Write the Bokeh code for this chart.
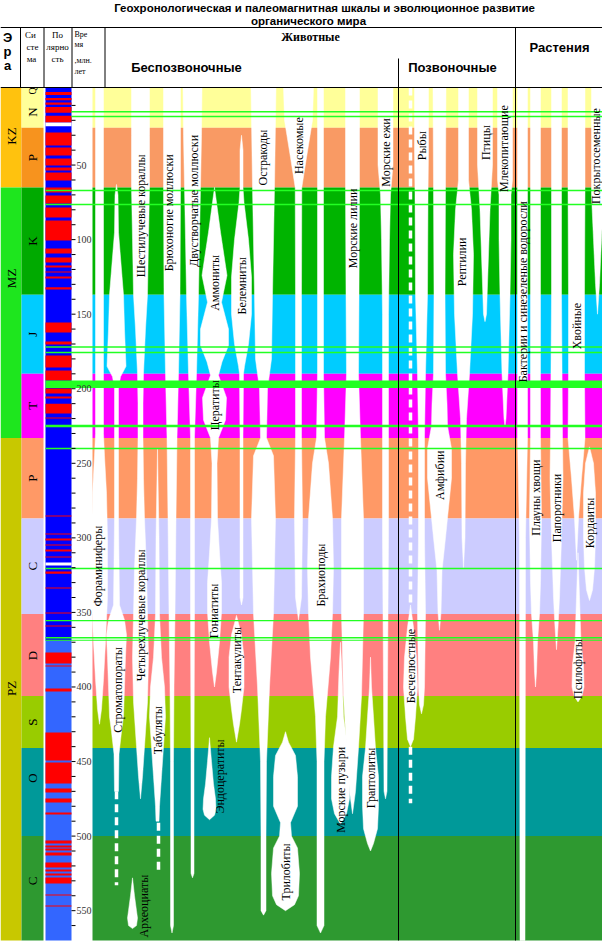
import math
from bokeh.plotting import figure
from bokeh.models import Range1d
from bokeh.embed import file_html
from bokeh.resources import INLINE
from bokeh.core.properties import value

# ---------------- data ----------------
eras = ["KZ", "MZ", "PZ"]
era_start = [0, 65, 233]
era_end = [65, 233, 570]
era_label_age = [30.5, 126, 401]

systems = ["N", "P", "K", "J", "T", "P", "C", "D", "S", "O", "C"]
sys_start = [0, 25, 65, 137, 190, 233, 287, 351, 406, 441, 500]
sys_end = [25, 65, 137, 190, 233, 287, 351, 406, 441, 500, 570]
sys_label_age = [14.5, 45, 101, 163.5, 211.5, 260, 319, 379, 423.5, 461, 530]

time_labels = [50, 100, 150, 200, 250, 300, 350, 400, 450, 500, 550]

# reversed (red) polarity intervals, Ma
reversed_start = [1, 5, 8, 11, 17, 28.2, 38.2, 45.6, 51.6, 55, 65, 70.4, 78.5, 87.2, 106, 112, 117.4, 121.4, 124.7, 132,
                  155.6, 168.3, 177.7, 187.8, 199.8, 205.2, 210, 219.3, 285, 297, 300.4, 304.5, 307.8, 312.5, 322.6,
                  333.3, 350, 358.7, 376.9, 385.6, 401, 430.5, 450.6, 468, 474.8, 484.2, 503, 506.3, 508.3, 511,
                  517.7, 522.4, 525, 527.8, 539.2, 546.5]
reversed_end = [3, 6.5, 9.5, 15, 21.5, 36.9, 43.6, 50.3, 53.6, 60.4, 68.4, 75.8, 85.2, 100.6, 109.3, 115.3, 118.7, 122,
                126, 133.5, 162.3, 170.3, 185.8, 194.5, 203.2, 206.5, 216.6, 220, 285.7, 297.7, 301.8, 305.1, 309.2,
                313.2, 324, 334, 350.7, 359.4, 384.3, 386.3, 403, 449.3, 464.7, 470.8, 477.5, 485.5, 505, 507.6,
                509.7, 513, 521, 523.7, 526.4, 531.8, 539.8, 547.2]
no_data_start = [21.5, 316.5]
no_data_end = [24, 318.5]

# event lines (Ma)
event_start = [13.8, 17.0, 66.5, 76.0, 171.5, 175.2, 194.5, 224.2, 239.5, 320.0, 355.0, 366.5, 368.3]
event_end = [14.8, 18.0, 67.5, 77.0, 172.5, 176.2, 199.5, 225.8, 240.5, 321.0, 356.0, 367.5, 369.0]

# taxa: name, age breakpoints, relative diversity (half width)
taxa_names = ["Фораминиферы", "Строматопораты", "Кораллы", "Табуляты", "Археоциаты", "Брюхоногие моллюски",
              "Двустворчатые моллюски", "Аммониты", "Эндоцератиты", "Тентакулиты", "Белемниты", "Остракоды",
              "Насекомые", "Трилобиты", "Брахиоподы", "Морские пузыри", "Морские лилии", "Граптолиты",
              "Морские ежи", "Бесчелюстные", "Рыбы", "Амфибии", "Рептилии", "Птицы", "Млекопитающие",
              "Бактерии", "Плауны хвощи", "Папоротники", "Хвойные", "Кордаиты", "Псилофиты", "Покрытосеменные"]
taxa_ages = [
    [-2, 230, 245, 270, 300, 340, 370, 395, 415, 425],
    [63, 70, 95, 137, 160, 185, 192, 200, 233, 287, 345, 355, 365, 380, 400, 420, 430, 445, 470],
    [-2, 30, 65, 100, 137, 160, 190, 210, 233, 260, 287, 320, 351, 380, 410, 440, 460, 475],
    [240, 300, 351, 380, 400, 420, 440, 460, 480, 490],
    [528, 540, 550, 555, 560, 562],
    [-2, 65, 137, 190, 233, 287, 351, 400, 450, 560, 565],
    [-2, 30, 65, 100, 137, 190, 233, 287, 351, 450, 525, 528],
    [65, 95, 124, 142, 160, 171, 182, 191, 206, 221, 233, 250, 287, 310, 330, 350, 370, 390, 400],
    [434, 450, 465, 475, 482, 486, 489],
    [352, 365, 380, 400, 415, 425, 437],
    [30, 40, 65, 75, 100, 125, 150, 170, 185, 190, 233, 300, 340, 345],
    [-2, 65, 137, 180, 200, 233, 245, 287, 351, 400, 450, 500, 550, 553],
    [-2, 20, 45, 65, 137, 190, 233, 287, 340, 355],
    [430, 437, 446, 460, 480, 491, 500, 508, 525, 540, 546, 550],
    [-2, 190, 233, 250, 287, 320, 351, 380, 420, 450, 560, 565],
    [370, 390, 420, 440, 460, 475, 485, 492],
    [-2, 65, 137, 190, 233, 287, 351, 406, 441, 470, 485],
    [380, 400, 420, 441, 460, 480, 495, 505, 510],
    [-2, 50, 70, 100, 150, 200, 300, 400, 470, 475],
    [345, 360, 380, 400, 420, 435, 440],
    [-2, 40, 70, 137, 190, 233, 300, 351, 400, 412, 418],
    [-2, 65, 137, 190, 210, 225, 240, 260, 280, 300, 322, 350, 362],
    [-2, 60, 80, 110, 150, 190, 220, 250, 300, 320],
    [-2, 50, 80, 120, 150, 155],
    [-2, 60, 70, 100, 137, 190, 220, 225],
    [-2, 233, 300, 570],
    [-2, 233, 287, 330, 351, 370, 390, 400],
    [-2, 137, 233, 260, 300, 340, 360, 375],
    [-2, 65, 137, 190, 233, 260, 287, 315],
    [239, 250, 270, 300, 320, 335, 342],
    [310, 340, 370, 385, 400, 406, 410],
    [-2, 70, 100, 130, 150],
]
taxa_div = [
    [4, 4, 5, 7, 8, 8, 6, 4, 2, 0],
    [0, 1.5, 2, 7, 8, 9.5, 4, 2, 2, 2, 3, 8, 10, 9, 8, 7, 5, 2.5, 2],
    [9, 9, 9, 8, 7, 5, 3, 2.5, 2.5, 3, 4, 6, 7, 8, 7, 4, 2, 0],
    [0, 1.5, 2, 4, 7, 8, 6, 4, 2, 1.5],
    [0, 2, 4, 5, 4, 0],
    [8.5, 8.5, 8, 6.5, 5, 4, 3, 2, 1.5, 1.5, 0],
    [9.5, 9, 8, 7, 6, 4, 2, 2, 2, 1.5, 1.5, 0],
    [0, 6, 12.5, 7, 14, 14, 7.5, 4, 12, 11, 4, 2.5, 3, 5, 7, 7, 5, 2, 0],
    [0, 2, 4, 6, 6.5, 5, 0],
    [0, 5, 7.5, 7.5, 5, 3, 0],
    [0, 1.5, 1.5, 2.5, 7, 10, 10, 7, 3, 2, 1.5, 1.5, 1.5, 0],
    [12.5, 11, 9, 8, 4, 3, 10, 12, 10, 6, 3, 2.5, 2.5, 0],
    [15, 14, 8, 3.3, 3, 3, 3, 4, 3, 0],
    [0, 3, 10, 12, 12, 5, 6, 12, 14, 13, 9, 0],
    [3, 3, 4, 8, 12, 13, 12, 10, 5, 3.5, 3.5, 0],
    [0, 1.5, 3, 7, 9, 9, 6, 0],
    [7, 7, 6.5, 6, 8, 11, 11, 9, 6, 3, 0],
    [0, 1, 3, 5, 8, 8, 7, 3, 0],
    [7.5, 7.5, 5, 4, 3, 3, 3, 2, 1.5, 0],
    [0, 3, 6, 7, 5, 3, 0],
    [7, 7, 6.5, 6, 4, 3, 3, 4, 3, 2, 0],
    [6.5, 6, 5.5, 6, 7.5, 8, 12, 12, 9, 6, 2.5, 1.5, 0],
    [5, 5, 8, 10, 9, 6, 3, 2, 1.5, 0],
    [7.5, 7.5, 5, 3, 1.5, 0],
    [7.5, 7.5, 6, 6, 5, 3, 1, 0],
    [5, 5, 3, 2.5],
    [5, 5, 6, 5, 4, 2, 1, 0],
    [5, 5, 6, 6.5, 5, 3, 1.5, 0],
    [8.5, 8.5, 8, 8, 8.5, 5, 2, 0],
    [0, 4, 6, 6, 5, 3, 0],
    [0, 1.5, 3, 5.5, 6, 4, 0],
    [6, 6, 4, 2, 0],
]
# dashed (poorly documented) ranges
dash_start = [470, 491, -2, 440]
dash_end = [533, 524, 345, 478]

# labels drawn in the chart
label_texts = ["Фораминиферы", "Строматопораты", "Шестилучевые кораллы", "Четырехлучевые кораллы", "Табуляты",
               "Археоциаты", "Брюхоногие моллюски", "Двустворчатые моллюски", "Аммониты", "Цератиты", "Гониатиты",
               "Эндоцератиты", "Тентакулиты", "Белемниты", "Остракоды", "Насекомые", "Трилобиты", "Брахиоподы",
               "Морские пузыри", "Морские лилии", "Граптолиты", "Морские ежи", "Бесчелюстные", "Рыбы", "Амфибии",
               "Рептилии", "Птицы", "Млекопитающие", "Бактерии и синезеленые водоросли", "Плауны хвощи",
               "Папоротники", "Хвойные", "Кордаиты", "Псилофиты", "Покрытосеменные"]
label_ages = [319, 402, 84, 352, 429, 547, 82, 74, 129, 211, 349, 460, 382, 131, 45, 37, 524, 325, 469, 92.5, 461,
              41.6, 386, 37, 258, 115, 35, 39, 135, 273, 280, 158, 290, 388, 44]

# ---------------- layout ----------------
W, H = 602, 942
Y0 = 90.0      # pixel row of 0 Ma
KPX = 1.4912   # pixels per Ma


def ma(ypx):
    return (ypx - Y0) / KPX


TOP = ma(87)
X_ERA = (0, 21)
X_SYS = (21, 43)
X_POL = (45, 71)
X_TIME = 71
X_CH = 92

era_colors = ["#FFC20E", "#1EE61E", "#C8C800"]
sys_colors = ["#FFFF99", "#F7931E", "#00AA00", "#00CCFF", "#FF00FF", "#FF9966", "#CCCCFF", "#FF8080", "#99CC00",
              "#009999", "#2E9930"]
band_colors = ["#FFFF99", "#F99A64", "#00B400", "#00CCFF", "#FF00FF", "#FF9966", "#CCCCFF", "#FF8080", "#99CC00",
               "#009999", "#2E9930"]

taxa_x = [99, 116, 140, 157, 132, 171.5, 192, 214, 209, 236, 241, 263, 298, 285, 320, 340, 352, 370, 385, 410, 421,
          439, 463, 484.5, 504.5, 522, 535, 556, 576, 589, 577.5, 597]
dash_x = [116, 158, 410, 410]
label_x = [97, 117, 140, 140, 157, 143, 168, 193, 214, 214, 213, 219, 236, 241, 262, 298, 285, 320, 340, 352, 370,
           385, 410, 421, 439, 461, 485, 503, 522, 535, 556, 576, 589, 577.5, 595]
event_x0 = [X_TIME, X_TIME] + [X_POL[0]] * 11

SERIF = value("Liberation Serif")
SANS = value("Liberation Sans")

p = figure(width=W, height=H, x_range=Range1d(0, W), y_range=Range1d(ma(H), ma(0)),
           output_backend="svg", toolbar_location=None, min_border=0)
p.axis.visible = False
p.xgrid.visible = False
p.ygrid.visible = False
p.outline_line_color = None
p.background_fill_color = "white"
p.border_fill_color = "white"


def top_of(a):
    return TOP if a <= 0 else a


# era column
p.quad(left=X_ERA[0], right=X_ERA[1], top=[top_of(a) for a in era_start], bottom=era_end,
       fill_color=era_colors, line_color=None)
# system column
p.quad(left=X_SYS[0], right=X_SYS[1], top=[top_of(a) for a in sys_start], bottom=sys_end,
       fill_color=sys_colors, line_color=None)
# chart bands
p.quad(left=X_CH, right=W, top=[top_of(a) for a in sys_start], bottom=sys_end,
       fill_color=band_colors, line_color=None)

# polarity
p.quad(left=X_POL[0], right=X_POL[1], top=TOP, bottom=369, fill_color="#0000FF", line_color=None)
p.quad(left=X_POL[0], right=X_POL[1], top=369, bottom=570, fill_color="#3366FF", line_color=None)
p.quad(left=X_POL[0], right=X_POL[1], top=reversed_start, bottom=reversed_end, fill_color="#FF0000",
       line_color=None)
p.quad(left=X_POL[0], right=X_POL[1], top=no_data_start, bottom=no_data_end, fill_color="white",
       line_color=None)

# spindles
xs, ys = [], []
for c, ages, dv in zip(taxa_x, taxa_ages, taxa_div):
    xs.append([c - w for w in dv] + [c + w for w in reversed(dv)])
    ys.append(list(ages) + list(reversed(ages)))
p.patches(xs, ys, fill_color="white", line_color="white", line_width=0.5)

# dashed ranges
for x, a0, a1 in zip(dash_x, dash_start, dash_end):
    p.line([x, x], [a0, a1], line_color="white", line_width=3.5, line_dash="8 5")

# event lines
p.quad(left=event_x0, right=W, top=event_start, bottom=event_end, fill_color="#22FF22", line_color=None)

# time scale
ticks = list(range(10, 570, 10))
p.segment(x0=X_TIME, x1=X_TIME + 4, y0=ticks, y1=ticks, line_color="black", line_width=1)
p.text(x=X_TIME + 5, y=time_labels, text=[str(t) for t in time_labels], text_font=SERIF,
       text_font_size="10px", text_align="left", text_baseline="middle", text_color="#333333")

# black frame lines
p.segment(x0=[398, 515], x1=[398, 515], y0=[ma(58), ma(27)], y1=[ma(940), ma(940)], line_color="black",
          line_width=1)
p.segment(x0=[20, 43.5, 71.5, 104.5], x1=[20, 43.5, 71.5, 104.5], y0=ma(27), y1=ma(87), line_color="black",
          line_width=1)
p.segment(x0=[0, 0], x1=[W, W], y0=[ma(27), ma(87)], y1=[ma(27), ma(87)], line_color="black", line_width=1)

# era / system labels
p.text(x=10.5, y=era_label_age, text=eras, angle=math.pi / 2, text_font=SERIF, text_font_size="13px",
       text_align="center", text_baseline="middle", text_color="black")
p.text(x=32, y=sys_label_age, text=systems, angle=math.pi / 2, text_font=SERIF, text_font_size="13px",
       text_align="center", text_baseline="middle", text_color="black")
p.text(x=32, y=[0.3], text=["Q"], angle=math.pi / 2, text_font=SERIF, text_font_size="10px",
       text_align="center", text_baseline="middle", text_color="black")

# taxon labels
p.text(x=label_x, y=label_ages, text=label_texts, angle=math.pi / 2, text_font=SERIF, text_font_size="12px",
       text_align="center", text_baseline="middle", text_color="black")

# header
p.text(x=[324, 308], y=[ma(7), ma(20)],
       text=["Геохронологическая и палеомагнитная шкалы и эволюционное развитие", "органического мира"],
       text_font=SANS, text_font_size="11.5px", text_font_style="bold", text_align="center",
       text_baseline="middle", text_color="black")
p.text(x=7, y=[ma(37), ma(51), ma(65)], text=["Э", "р", "а"], text_font=SANS, text_font_size="13px",
       text_font_style="bold", text_align="center", text_baseline="middle")
p.text(x=[30, 32, 31], y=[ma(34), ma(46), ma(58)], text=["Си", "сте", "ма"], text_font=SERIF,
       text_font_size="9px", text_align="center", text_baseline="middle")
p.text(x=57, y=[ma(34), ma(46), ma(58)], text=["По", "лярно", "сть"], text_font=SERIF,
       text_font_size="9px", text_align="center", text_baseline="middle")
p.text(x=74, y=[ma(34), ma(44), ma(60), ma(71)], text=["Вре", "мя", ",млн.", "лет"], text_font=SERIF,
       text_font_size="8px", text_align="left", text_baseline="middle")
p.text(x=310, y=[ma(36)], text=["Животные"], text_font=SERIF, text_font_size="12px",
       text_font_style="bold", text_align="center", text_baseline="middle")
p.text(x=[186, 452, 559], y=[ma(67), ma(67), ma(47)], text=["Беспозвоночные", "Позвоночные", "Растения"],
       text_font=SANS, text_font_size="13px", text_font_style="bold", text_align="center",
       text_baseline="middle")

open("out.html", "w").write(file_html(p, INLINE))
